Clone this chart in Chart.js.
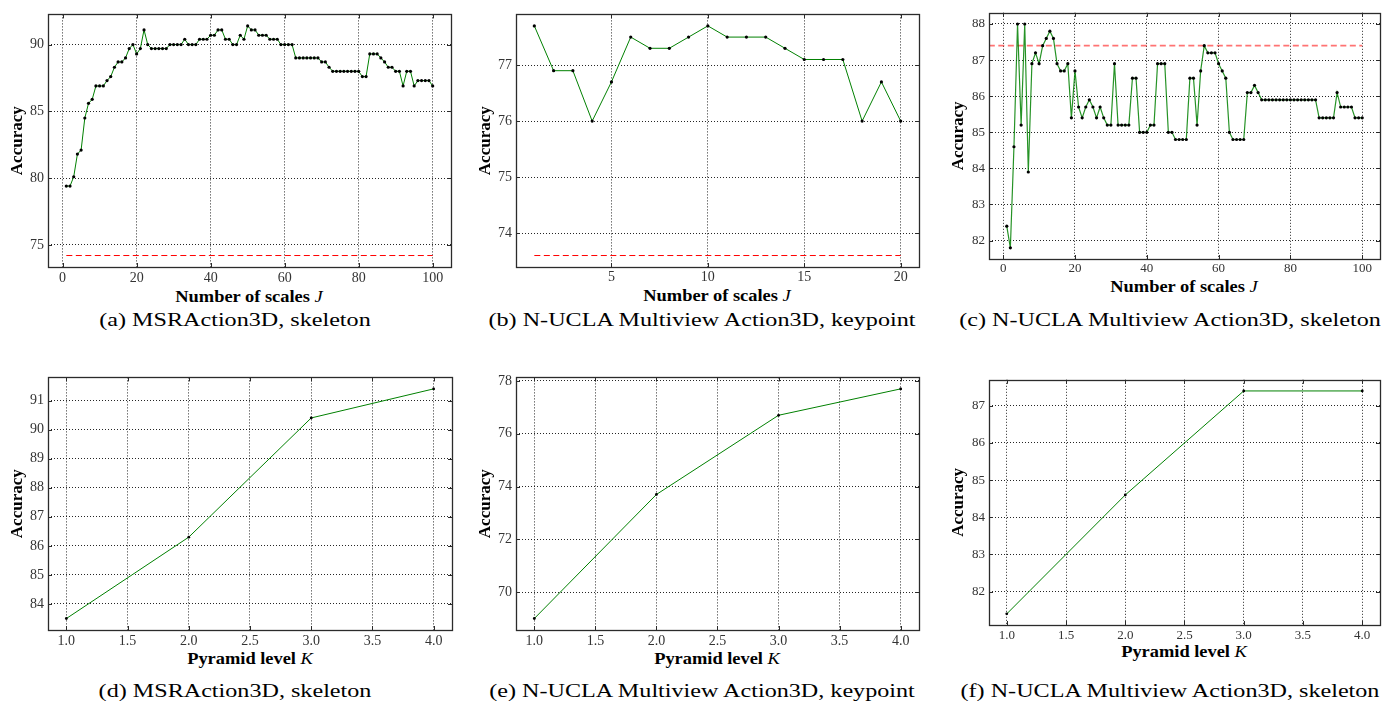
<!DOCTYPE html>
<html>
<head>
<meta charset="utf-8">
<script src="https://cdn.jsdelivr.net/npm/chart.js@4.4.1/dist/chart.umd.min.js"></script>
<style>
  html, body { margin: 0; padding: 0; background: #fff; }
  #page { position: relative; width: 1397px; height: 705px; overflow: hidden; }
  canvas { position: absolute; }
  .xt {
    position: absolute; width: 300px; line-height: 20px; text-align: center; white-space: nowrap;
    font: bold 16px "Liberation Serif", serif; color: #000; transform: scaleX(1.15);
  }
  .xt i { font-weight: normal; }
  .cap {
    position: absolute; width: 400px; line-height: 24px; text-align: center; white-space: nowrap;
    font: 19px "Liberation Serif", serif; color: #000; transform: scaleX(1.27);
  }
</style>
</head>
<body>
<div id="page">
  <div class="xt" style="left:99px;top:288px">Number of scales <i>J</i></div>
  <div class="xt" style="left:567px;top:287px">Number of scales <i>J</i></div>
  <div class="xt" style="left:1034px;top:278px">Number of scales <i>J</i></div>
  <div class="xt" style="left:100px;top:650px">Pyramid level <i>K</i></div>
  <div class="xt" style="left:567px;top:650px">Pyramid level <i>K</i></div>
  <div class="xt" style="left:1034px;top:643px">Pyramid level <i>K</i></div>

  <div class="cap" style="left:35px;top:309px">(a) MSRAction3D, skeleton</div>
  <div class="cap" style="left:502px;top:309px">(b) N-UCLA Multiview Action3D, keypoint</div>
  <div class="cap" style="left:970px;top:309px">(c) N-UCLA Multiview Action3D, skeleton</div>
  <div class="cap" style="left:35px;top:680px">(d) MSRAction3D, skeleton</div>
  <div class="cap" style="left:502px;top:680px">(e) N-UCLA Multiview Action3D, keypoint</div>
  <div class="cap" style="left:970px;top:680px">(f) N-UCLA Multiview Action3D, skeleton</div>
</div>

<script>
// ---- data ----
const accA = [
  79.4, 79.4, 80.1, 81.8, 82.1, 84.5, 85.6, 85.9, 86.9, 86.9,
  86.9, 87.3, 87.6, 88.3, 88.7, 88.7, 89.0, 89.7, 90.0, 89.3,
  89.7, 91.1, 90.0, 89.7, 89.7, 89.7, 89.7, 89.7, 90.0, 90.0,
  90.0, 90.0, 90.4, 90.0, 90.0, 90.0, 90.4, 90.4, 90.4, 90.7,
  90.7, 91.1, 91.1, 90.4, 90.4, 90.0, 90.0, 90.7, 90.4, 91.4,
  91.1, 91.1, 90.7, 90.7, 90.7, 90.4, 90.4, 90.4, 90.0, 90.0,
  90.0, 90.0, 89.0, 89.0, 89.0, 89.0, 89.0, 89.0, 89.0, 88.7,
  88.7, 88.3, 88.0, 88.0, 88.0, 88.0, 88.0, 88.0, 88.0, 88.0,
  87.6, 87.6, 89.3, 89.3, 89.3, 89.0, 88.7, 88.3, 88.3, 88.0,
  88.0, 86.9, 88.0, 88.0, 86.9, 87.3, 87.3, 87.3, 87.3, 86.9
];
const baseA = 74.2;

const accB = [
  77.7, 76.9, 76.9, 76.0, 76.7, 77.5, 77.3, 77.3, 77.5, 77.7,
  77.5, 77.5, 77.5, 77.3, 77.1, 77.1, 77.1, 76.0, 76.7, 76.0
];
const baseB = 73.6;

const accC = [
  82.4, 81.8, 84.6, 88.0, 85.2, 88.0, 83.9, 86.9, 87.2, 86.9,
  87.4, 87.6, 87.8, 87.6, 86.9, 86.7, 86.7, 86.9, 85.4, 86.7,
  85.7, 85.4, 85.7, 85.9, 85.7, 85.4, 85.7, 85.4, 85.2, 85.2,
  86.9, 85.2, 85.2, 85.2, 85.2, 86.5, 86.5, 85.0, 85.0, 85.0,
  85.2, 85.2, 86.9, 86.9, 86.9, 85.0, 85.0, 84.8, 84.8, 84.8,
  84.8, 86.5, 86.5, 85.2, 86.7, 87.4, 87.2, 87.2, 87.2, 86.9,
  86.7, 86.5, 85.0, 84.8, 84.8, 84.8, 84.8, 86.1, 86.1, 86.3,
  86.1, 85.9, 85.9, 85.9, 85.9, 85.9, 85.9, 85.9, 85.9, 85.9,
  85.9, 85.9, 85.9, 85.9, 85.9, 85.9, 85.9, 85.4, 85.4, 85.4,
  85.4, 85.4, 86.1, 85.7, 85.7, 85.7, 85.7, 85.4, 85.4, 85.4
];
const baseC = 87.4;

const levelsK = [1, 2, 3, 4];
const accD = [83.5, 86.3, 90.4, 91.4];
const accE = [69.0, 73.7, 76.7, 77.7];
const accF = [81.4, 84.6, 87.4, 87.4];

// tick labels
const ticksJ100 = [0, 20, 40, 60, 80, 100];
const ticksJ20 = [5, 10, 15, 20];
const ticksK = [1.0, 1.5, 2.0, 2.5, 3.0, 3.5, 4.0];
const yTicksA = [75, 80, 85, 90];
const yTicksB = [74, 75, 76, 77];
const yTicksC = [82, 83, 84, 85, 86, 87, 88];
const yTicksD = [84, 85, 86, 87, 88, 89, 90, 91];
const yTicksE = [70, 72, 74, 76, 78];
const yTicksF = [82, 83, 84, 85, 86, 87];

const FONT = '"Liberation Serif", serif';
const PAD_L = 48, PAD_T = 8, PAD_R = 10, PAD_B = 24;

// box around plot + inward ticks on all 4 sides (matplotlib look)
const framePlugin = {
  id: 'frame',
  afterDatasetsDraw(chart) {
    const { ctx, chartArea: a, scales } = chart;
    ctx.save();
    ctx.strokeStyle = '#2b2b2b';
    ctx.lineWidth = 1;
    ctx.beginPath();
    scales.x.ticks.forEach(t => {
      const px = Math.round(scales.x.getPixelForValue(t.value)) + 0.5;
      ctx.moveTo(px, a.bottom); ctx.lineTo(px, a.bottom - 4);
      ctx.moveTo(px, a.top); ctx.lineTo(px, a.top + 4);
    });
    scales.y.ticks.forEach(t => {
      const py = Math.round(scales.y.getPixelForValue(t.value)) + 0.5;
      ctx.moveTo(a.left, py); ctx.lineTo(a.left + 4, py);
      ctx.moveTo(a.right, py); ctx.lineTo(a.right - 4, py);
    });
    ctx.stroke();
    ctx.lineWidth = 1.3;
    ctx.strokeRect(Math.round(a.left) + 0.5, Math.round(a.top) + 0.5,
                   Math.round(a.right - a.left), Math.round(a.bottom - a.top));
    ctx.restore();
  }
};

function makePanel(p) {
  const page = document.getElementById('page');
  const w = p.box.r - p.box.l + PAD_L + PAD_R;
  const h = p.box.b - p.box.t + PAD_T + PAD_B;
  const cv = document.createElement('canvas');
  cv.width = w; cv.height = h;
  cv.style.width = w + 'px'; cv.style.height = h + 'px';
  cv.style.left = (p.box.l - PAD_L) + 'px';
  cv.style.top = (p.box.t - PAD_T) + 'px';
  page.appendChild(cv);

  const datasets = [{
    data: p.xs.map((x, i) => ({ x: x, y: p.ys[i] })),
    borderColor: p.lineColor || '#008000',
    borderWidth: p.lineWidth || 1,
    pointRadius: p.dot,
    pointBackgroundColor: '#000',
    pointBorderWidth: 0,
    tension: 0
  }];
  if (p.base != null) {
    datasets.push({
      data: [{ x: p.baseFrom, y: p.base }, { x: p.baseTo, y: p.base }],
      borderColor: p.baseColor,
      borderWidth: p.baseWidth,
      borderDash: [6, 3.5],
      pointRadius: 0
    });
  }

  const tickFont = { family: FONT, size: p.fs };
  new Chart(cv, {
    type: 'line',
    data: { datasets },
    options: {
      responsive: false,
      animation: false,
      events: [],
      layout: { padding: { top: PAD_T, right: PAD_R, left: 0, bottom: 0 } },
      plugins: { legend: { display: false }, tooltip: { enabled: false } },
      scales: {
        x: {
          type: 'linear',
          min: p.xMin, max: p.xMax,
          afterBuildTicks: s => { s.ticks = p.xTicks.map(v => ({ value: v })); },
          afterFit: s => { s.height = PAD_B; },
          ticks: {
            padding: p.xPad, color: '#333', font: tickFont,
            autoSkip: false, maxRotation: 0,
            callback: p.xFmt
          },
          grid: { color: 'rgba(0,0,0,0.85)', lineWidth: 1, drawTicks: false },
          border: { display: false, dash: [1, 2] }
        },
        y: {
          type: 'linear',
          min: p.yMin, max: p.yMax,
          afterBuildTicks: s => { s.ticks = p.yTicks.map(v => ({ value: v })); },
          afterFit: s => { s.width = PAD_L; },
          title: {
            display: true, text: 'Accuracy', color: '#000',
            font: { family: FONT, size: 17, weight: 'bold' },
            padding: { top: 7, bottom: 0 }
          },
          ticks: { padding: 4, color: '#333', font: tickFont, autoSkip: false },
          grid: { color: 'rgba(0,0,0,0.85)', lineWidth: 1, drawTicks: false },
          border: { display: false, dash: [1, 2] }
        }
      }
    },
    plugins: [framePlugin]
  });
}

const J100 = accA.map((_, i) => i + 1);
const J20 = accB.map((_, i) => i + 1);
const intFmt = v => String(v);
const oneDec = v => Number(v).toFixed(1);

// top row: number of scales J
makePanel({
  box: { l: 48, t: 10, r: 451, b: 267 },
  xs: J100, ys: accA, dot: 1.6,
  base: baseA, baseFrom: 1, baseTo: 100, baseColor: '#ff0000', baseWidth: 1,
  xMin: -3.95, xMax: 104.95, yMin: 73.34, yMax: 92.26,
  xTicks: ticksJ100, yTicks: yTicksA, xFmt: intFmt, fs: 14, xPad: 3
});
makePanel({
  box: { l: 516, t: 10, r: 919, b: 267 },
  xs: J20, ys: accB, dot: 1.6,
  base: baseB, baseFrom: 1, baseTo: 20, baseColor: '#ff0000', baseWidth: 1,
  xMin: 0.05, xMax: 20.95, yMin: 73.395, yMax: 77.905,
  xTicks: ticksJ20, yTicks: yTicksB, xFmt: intFmt, fs: 14, xPad: 2
});
makePanel({
  box: { l: 989, t: 9, r: 1380, b: 259 },
  xs: J100, ys: accC, dot: 1.6, lineColor: 'rgba(0,128,0,0.85)', lineWidth: 1.2,
  base: baseC, baseFrom: -4, baseTo: 100, baseColor: 'rgba(255,0,0,0.55)', baseWidth: 1.8,
  xMin: -3.95, xMax: 104.95, yMin: 81.49, yMax: 88.31,
  xTicks: ticksJ100, yTicks: yTicksC, xFmt: intFmt, fs: 13, xPad: 2
});

// bottom row: pyramid level K
makePanel({
  box: { l: 48, t: 373, r: 452, b: 630 },
  xs: levelsK, ys: accD, dot: 1.4,
  xMin: 0.85, xMax: 4.15, yMin: 83.105, yMax: 91.795,
  xTicks: ticksK, yTicks: yTicksD, xFmt: oneDec, fs: 14, xPad: 3
});
makePanel({
  box: { l: 516, t: 373, r: 919, b: 630 },
  xs: levelsK, ys: accE, dot: 1.4,
  xMin: 0.85, xMax: 4.15, yMin: 68.565, yMax: 78.135,
  xTicks: ticksK, yTicks: yTicksE, xFmt: oneDec, fs: 14, xPad: 3
});
makePanel({
  box: { l: 989, t: 376, r: 1380, b: 625 },
  xs: levelsK, ys: accF, dot: 1.4,
  xMin: 0.85, xMax: 4.15, yMin: 81.1, yMax: 87.7,
  xTicks: ticksK, yTicks: yTicksF, xFmt: oneDec, fs: 13, xPad: 3
});
</script>
</body>
</html>
